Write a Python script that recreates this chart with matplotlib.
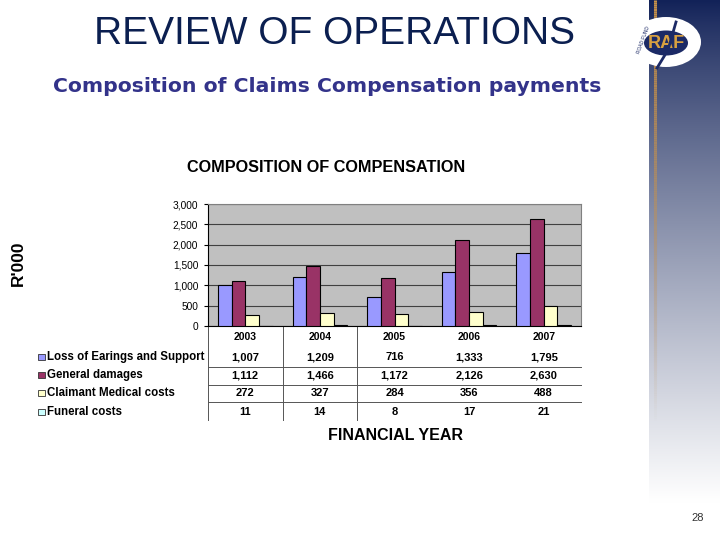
import numpy as np
import matplotlib
matplotlib.use("Agg")
import matplotlib.pyplot as plt
from matplotlib.patches import Ellipse, Rectangle

# data (R'000)
years = ["2003", "2004", "2005", "2006", "2007"]
loss_of_earnings = [1007, 1209, 716, 1333, 1795]
general_damages = [1112, 1466, 1172, 2126, 2630]
medical_costs = [272, 327, 284, 356, 488]
funeral_costs = [11, 14, 8, 17, 21]

series_names = ["Loss of Earings and Support", "General damages",
                "Claimant Medical costs", "Funeral costs"]
series_vals = [loss_of_earnings, general_damages, medical_costs, funeral_costs]
series_cols = ["#9999FF", "#993366", "#FFFFCC", "#CCFFFF"]

plt.rcParams["font.family"] = ["Liberation Sans", "DejaVu Sans"]

fig = plt.figure(figsize=(7.2, 5.4), dpi=100)
fig.patch.set_facecolor("white")

# background layer in pixel coordinates
bg = fig.add_axes([0, 0, 1, 1], zorder=0)
bg.set_xlim(0, 720)
bg.set_ylim(540, 0)
bg.axis("off")

# right hand gradient strip
grad = np.linspace(0, 1, 256).reshape(-1, 1)
top = np.array([0x12, 0x22, 0x58]) / 255
bot = np.array([1.0, 1.0, 1.0])
t = np.clip(grad / 0.93, 0, 1) ** 0.85
img = top * (1 - t)[..., None] + bot * t[..., None]
img = img.reshape(256, 1, 3)
bg.imshow(img, extent=(649, 720, 540, 0), aspect="auto", zorder=1)

# thin tan line
line_grad = np.linspace(0, 1, 200)
for i in range(len(line_grad) - 1):
    y0 = line_grad[i] * 420
    y1 = line_grad[i + 1] * 420
    a = 1 - line_grad[i]
    bg.plot([655, 655], [y0, y1], color="#C8924A", lw=2.2, alpha=a, zorder=2,
            solid_capstyle="butt")

# logo
bg.add_patch(Ellipse((666, 42), 70, 50, facecolor="white", edgecolor="none", zorder=3))
bg.add_patch(Ellipse((666, 43), 44, 25, facecolor="#1C2A66", edgecolor="none", zorder=4))
bg.text(666, 44, "RAF", color="#D8A040", fontsize=13, fontweight="bold",
        ha="center", va="center", zorder=5)
bg.plot([676, 668, 657], [22, 50, 68], color="#1C2A66", lw=2, zorder=5)
bg.text(644, 40, "ROAD FUND", color="#1C2A66", fontsize=3.5, rotation=70,
        ha="center", va="center", zorder=5)

# slide titles
bg.text(334, 34, "REVIEW OF OPERATIONS", color="#0B1F50", fontsize=28,
        ha="center", va="center")
bg.text(327, 86, "Composition of Claims Compensation payments", color="#33338A",
        fontsize=14.7, fontweight="bold", ha="center", va="center",
        family=["DejaVu Sans"])
bg.text(698, 518, "28", color="#333333", fontsize=8, ha="center", va="center")

# chart texts
bg.text(326, 168, "COMPOSITION OF COMPENSATION", fontsize=11.7, fontweight="bold",
        ha="center", va="center")
bg.text(395, 435, "FINANCIAL YEAR", fontsize=11.5, fontweight="bold",
        ha="center", va="center")
bg.text(18, 263, "R'000", fontsize=12.5, fontweight="bold", rotation=90,
        ha="center", va="center")

# bar chart
ax = fig.add_axes([208 / 720, (540 - 326) / 540, 373 / 720, 122 / 540], zorder=2)
ax.set_facecolor("#C0C0C0")
x = np.arange(len(years))
w = 0.183
for k, (vals, col) in enumerate(zip(series_vals, series_cols)):
    ax.bar(x + (k - 1.5) * w, vals, w, color=col, edgecolor="black", lw=0.8, zorder=3)

ax.set_xlim(-0.5, len(years) - 0.5)
ax.set_ylim(0, 3000)
ax.set_yticks(np.arange(0, 3001, 500))
ax.set_yticklabels([f"{v:,}" for v in range(0, 3001, 500)], fontsize=7.3)
ax.yaxis.grid(True, color="#404040", lw=0.8)
ax.set_axisbelow(True)
ax.set_xticks([])
ax.tick_params(axis="y", length=3, pad=4)
for s in ["top", "right"]:
    ax.spines[s].set_color("#808080")
ax.spines["left"].set_color("black")
ax.spines["bottom"].set_color("black")

# data table under the axis
px = 122.0  # axes height in pixels


def yfrac(ypix):
    return (326 - ypix) / px


tr = ax.get_xaxis_transform()
row_y = [357, 375, 393, 412]
for i, yr in enumerate(years):
    ax.text(i, yfrac(337), yr, transform=tr, ha="center", va="center",
            fontsize=7.5, fontweight="bold", clip_on=False)
    for r, vals in enumerate(series_vals):
        ax.text(i, yfrac(row_y[r]), f"{vals[i]:,}", transform=tr, ha="center",
                va="center", fontsize=8, fontweight="bold", clip_on=False)

for yl in [366.5, 384.5, 401.5]:
    ax.plot([-0.5, len(years) - 0.5], [yfrac(yl)] * 2, transform=tr, color="#555555",
            lw=0.7, clip_on=False)
for xv in [-0.5, 0.5, 1.5]:
    ax.plot([xv, xv], [0, yfrac(420)], transform=tr, color="#555555", lw=0.7,
            clip_on=False)

# legend keys and row names
for r, (name, col) in enumerate(zip(series_names, series_cols)):
    yy = row_y[r]
    bg.add_patch(Rectangle((38, yy - 3.5), 6.5, 6.5, facecolor=col,
                           edgecolor="#333333", lw=0.6, zorder=3))
    bg.text(47, yy, name, fontsize=8.3, fontweight="bold", ha="left",
            va="center", zorder=3)

fig.savefig("out.png", dpi=100)
